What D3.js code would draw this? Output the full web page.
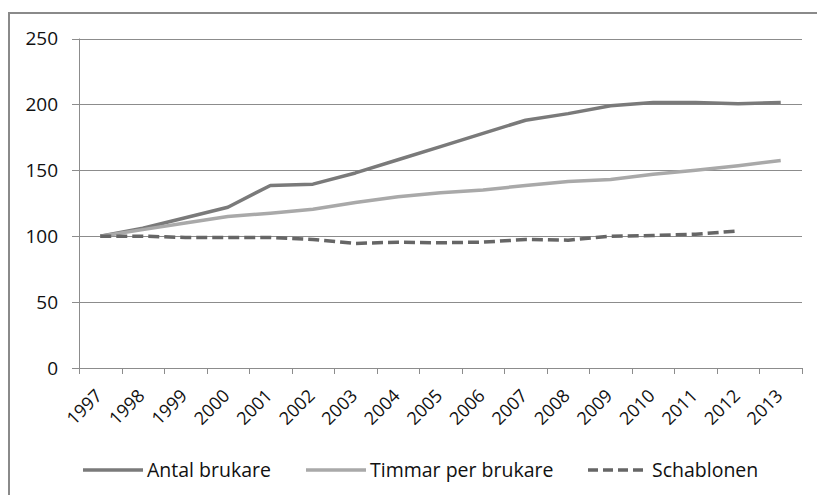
<!DOCTYPE html>
<html lang="sv">
<head>
    <meta charset="UTF-8">
    <title>Antal brukare, timmar per brukare och schablonen</title>
    <script src="https://d3js.org/d3.v7.min.js"></script>
    <style>
        body { margin: 0; background: #fff; }
        svg { display: block; font-family: "Open Sans", "Noto Sans", sans-serif; }
    </style>
</head>
<body>
    <div id="container"></div>

    <script>
        // Data (index, 1997 = 100)
        const years = ["1997", "1998", "1999", "2000", "2001", "2002", "2003", "2004", "2005",
                       "2006", "2007", "2008", "2009", "2010", "2011", "2012", "2013"];
        const antalBrukare = [100, 106, 114, 122, 138.5, 139.5, 148, 158, 168, 178, 188, 193, 199, 201.5, 201.5, 200.5, 201.5];
        const timmarPerBrukare = [100, 105, 110, 115, 117.5, 120.5, 125.5, 130, 133, 135, 138.5, 141.5, 143, 147, 150, 153.5, 157.5];
        const schablonen = [100, 100, 99, 99, 99, 97.5, 94.5, 95.5, 95, 95.5, 97.5, 97, 100, 100.5, 101.5, 104];
        const yTicks = [0, 50, 100, 150, 200, 250];

        const series = [
            { name: "Antal brukare", values: antalBrukare, color: "#7a7a7a", dash: null },
            { name: "Timmar per brukare", values: timmarPerBrukare, color: "#a9a9a9", dash: null },
            { name: "Schablonen", values: schablonen, color: "#666", dash: "11,5" }
        ];

        const width = 817;
        const height = 495;
        const plot = { left: 79, right: 802, top: 38.5, bottom: 368 };

        const svg = d3.select("#container").append("svg")
            .attr("width", width)
            .attr("height", height);

        // outer frame
        svg.append("rect")
            .attr("x", 9).attr("y", 13)
            .attr("width", width + 20).attr("height", height + 20)
            .attr("fill", "none")
            .attr("stroke", "#8a8a8a")
            .attr("stroke-width", 2);

        const x = d3.scaleBand().domain(years).range([plot.left, plot.right]);
        const y = d3.scaleLinear().domain([0, 250]).range([plot.bottom, plot.top]);

        // gridlines
        svg.append("g")
            .selectAll("line")
            .data(yTicks)
            .join("line")
            .attr("x1", plot.left - 7)
            .attr("x2", plot.right)
            .attr("y1", d => Math.round(y(d)) + 0.5)
            .attr("y2", d => Math.round(y(d)) + 0.5)
            .attr("stroke", "#8c8c8c")
            .attr("stroke-width", 1);

        // y axis line
        svg.append("line")
            .attr("x1", plot.left + 0.5).attr("x2", plot.left + 0.5)
            .attr("y1", plot.top).attr("y2", plot.bottom + 6)
            .attr("stroke", "#8c8c8c");

        // y labels
        svg.append("g")
            .selectAll("text")
            .data(yTicks)
            .join("text")
            .attr("x", plot.left - 21)
            .attr("y", d => y(d))
            .attr("dy", "0.36em")
            .attr("text-anchor", "end")
            .attr("font-size", 19)
            .attr("fill", "#111")
            .text(d => d);

        // x tick marks at band boundaries
        const boundaries = years.map(d => x(d)).concat([x.range()[1]]);
        svg.append("g")
            .selectAll("line")
            .data(boundaries)
            .join("line")
            .attr("x1", d => Math.round(d) + 0.5)
            .attr("x2", d => Math.round(d) + 0.5)
            .attr("y1", plot.bottom)
            .attr("y2", plot.bottom + 6)
            .attr("stroke", "#8c8c8c");

        // x labels, rotated
        svg.append("g")
            .selectAll("text")
            .data(years)
            .join("text")
            .attr("transform", d => `translate(${x(d) + x.bandwidth() / 2 + 3},${plot.bottom + 29}) rotate(-45)`)
            .attr("text-anchor", "end")
            .attr("font-size", 18)
            .attr("fill", "#111")
            .text(d => d);

        // lines
        const line = d3.line()
            .x((d, i) => x(years[i]) + x.bandwidth() / 2)
            .y(d => y(d));

        svg.append("g")
            .selectAll("path")
            .data(series)
            .join("path")
            .attr("d", d => line(d.values))
            .attr("fill", "none")
            .attr("stroke", d => d.color)
            .attr("stroke-width", 3.5)
            .attr("stroke-linejoin", "round")
            .attr("stroke-dasharray", d => d.dash);

        // legend
        const legendX = [83, 306, 588];
        const legend = svg.append("g")
            .selectAll("g")
            .data(series)
            .join("g")
            .attr("transform", (d, i) => `translate(${legendX[i]},470)`);

        legend.append("line")
            .attr("x1", 0).attr("x2", 60)
            .attr("stroke", d => d.color)
            .attr("stroke-width", 3.5)
            .attr("stroke-dasharray", d => d.dash ? "10,5" : null);

        legend.append("text")
            .attr("x", 64)
            .attr("dy", "0.36em")
            .attr("font-size", 19.5)
            .attr("fill", "#111")
            .text(d => d.name);
    </script>
</body>
</html>
